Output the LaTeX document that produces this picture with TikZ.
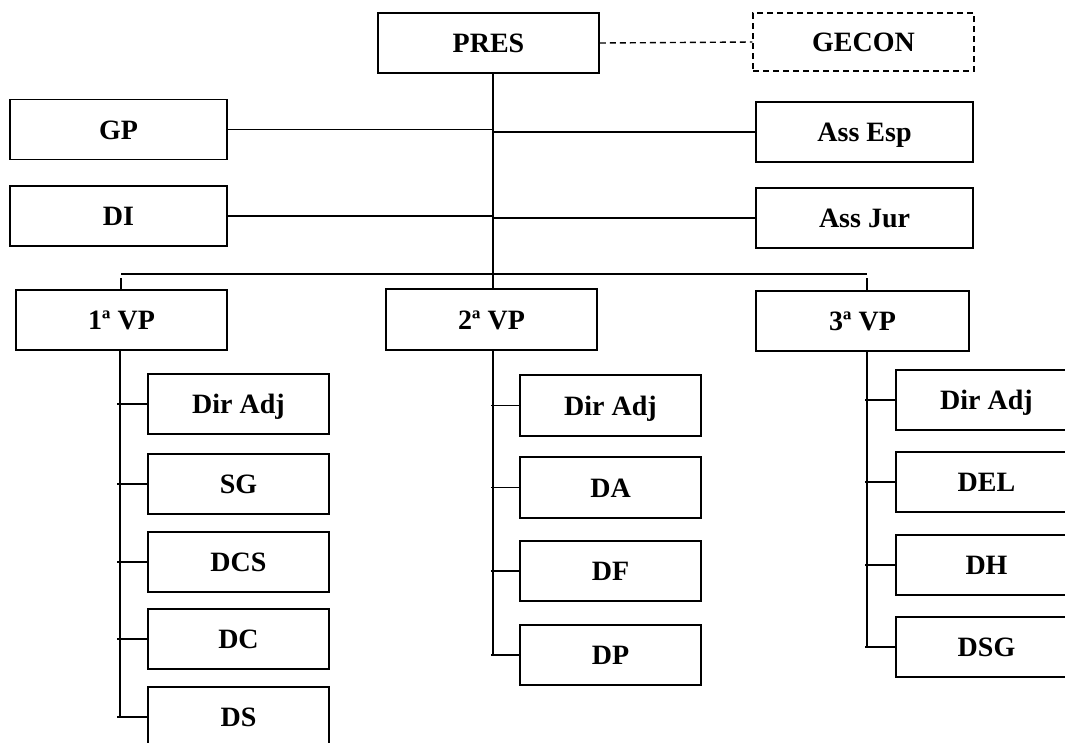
\documentclass[tikz,border=0pt]{standalone}
\usepackage{fontspec}
\setmainfont{Liberation Serif}
\begin{document}
\begin{tikzpicture}[x=1pt,y=-1pt,
  box/.style={draw, line width=1.5pt, rectangle, inner sep=0pt,
    font=\fontsize{28}{30}\selectfont\bfseries,
    text height=19pt, text depth=0pt, minimum height=60pt},
  wide/.style={box, minimum width=217pt},
  vpbox/.style={box, minimum width=211pt},
  sub/.style={box, minimum width=181pt},
  link/.style={line width=1.4pt},
  dlink/.style={line width=1.4pt, dash pattern=on 6pt off 4pt}
]
\fill[white] (0,0) rectangle (1065,742);
\useasboundingbox (0,0) rectangle (1065,742);
\clip (0,0) rectangle (1065,742);

% top
\node[box, minimum width=221pt] (pres) at (488.5,43) {PRES};
\node[box, minimum width=221pt, minimum height=58pt, dash pattern=on 6pt off 4pt] (gecon) at (863.5,42) {GECON};

\node[wide] (gp) at (118.5,129.5) {GP};
\node[wide] (di) at (118.5,216) {DI};
\node[wide] (assesp) at (864.5,132) {Ass Esp};
\node[wide] (assjur) at (864.5,218) {Ass Jur};

\node[vpbox] (vp1) at (121.5,320) {1ª VP};
\node[vpbox, minimum height=61pt] (vp2) at (491.5,319.5) {2ª VP};
\node[box, minimum width=213pt] (vp3) at (862.5,321) {3ª VP};

% first VP children
\node[sub] (a1) at (238.5,404) {Dir Adj};
\node[sub] (a2) at (238.5,484) {SG};
\node[sub] (a3) at (238.5,562) {DCS};
\node[sub] (a4) at (238.5,639) {DC};
\node[sub] (a5) at (238.5,717) {DS};

% second VP children
\node[sub, minimum height=61pt] (b1) at (610.5,405.5) {Dir Adj};
\node[sub, minimum height=61pt] (b2) at (610.5,487.5) {DA};
\node[sub] (b3) at (610.5,571) {DF};
\node[sub] (b4) at (610.5,655) {DP};

% third VP children
\node[sub] (c1) at (986.5,400) {Dir Adj};
\node[sub] (c2) at (986.5,482) {DEL};
\node[sub] (c3) at (986.5,565) {DH};
\node[sub] (c4) at (986.5,647) {DSG};

% trunk coordinates
\coordinate (tx) at (493,274);
\coordinate (busL) at (121,274);
\coordinate (busR) at (867,274);
\coordinate (colA) at (120,0);
\coordinate (colB) at (493,0);
\coordinate (colC) at (867,0);

% connectors
\draw[dlink] (pres.east) -- (gecon.west);
\draw[link] (pres.south -| tx) -- (vp2.north -| tx);
\draw[link] (gp.east) -- (gp.east -| tx);
\draw[link] (di.east) -- (di.east -| tx);
\draw[link] (assesp.west -| tx) -- (assesp.west);
\draw[link] (assjur.west -| tx) -- (assjur.west);
\draw[link] (busL) -- (busR);
\draw[link] ([yshift=-4pt]busL) -- (vp1.north -| busL);
\draw[link] ([yshift=-4pt]busR) -- (vp3.north -| busR);

% columns
\draw[link] (vp1.south -| colA) -- (a5.west -| colA);
\foreach \n in {a1,a2,a3,a4,a5}
  \draw[link] ([xshift=-3pt]\n.west -| colA) -- (\n.west);
\draw[link] (vp2.south -| colB) -- (b4.west -| colB);
\foreach \n in {b1,b2,b3,b4}
  \draw[link] ([xshift=-2pt]\n.west -| colB) -- (\n.west);
\draw[link] (vp3.south -| colC) -- (c4.west -| colC);
\foreach \n in {c1,c2,c3,c4}
  \draw[link] ([xshift=-2pt]\n.west -| colC) -- (\n.west);
\end{tikzpicture}
\end{document}
